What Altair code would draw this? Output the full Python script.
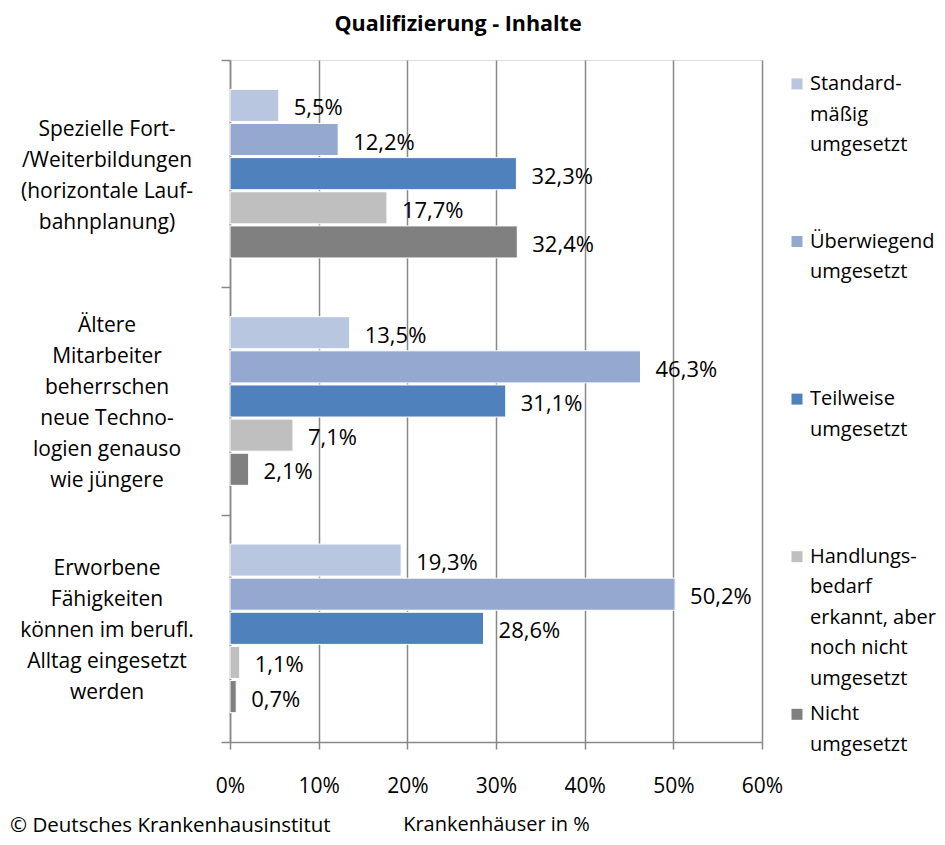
import altair as alt
import pandas as pd

categories = [
    "Spezielle Fort-|/Weiterbildungen|(horizontale Lauf-|bahnplanung)",
    "Ältere|Mitarbeiter|beherrschen|neue Techno-|logien genauso|wie jüngere",
    "Erworbene|Fähigkeiten|können im berufl.|Alltag eingesetzt|werden",
]
series = [
    "Standard-|mäßig|umgesetzt",
    "Überwiegend|umgesetzt",
    "Teilweise|umgesetzt",
    "Handlungs-|bedarf|erkannt, aber|noch nicht|umgesetzt",
    "Nicht|umgesetzt",
]
colors = ["#B9C6E0", "#95A9D0", "#4F81BD", "#BFBFBF", "#808080"]

standard = [5.5, 13.5, 19.3]
ueberwiegend = [12.2, 46.3, 50.2]
teilweise = [32.3, 31.1, 28.6]
handlungsbedarf = [17.7, 7.1, 1.1]
nicht = [32.4, 2.1, 0.7]

x_ticks = [0, 10, 20, 30, 40, 50, 60]

rows = []
for s, vals in zip(series, [standard, ueberwiegend, teilweise, handlungsbedarf, nicht]):
    for c, v in zip(categories, vals):
        rows.append({"cat": c, "series": s, "value": v,
                     "label": f"{v:.1f}%".replace(".", ",")})
df = pd.DataFrame(rows)

FONT = "Open Sans"
GRID = "#888888"
CAT_FS = 21
CAT_LH = 31

y_enc = alt.Y("cat:N", sort=categories,
              scale=alt.Scale(paddingInner=0, paddingOuter=0),
              axis=alt.Axis(title=None, orient="left", tickBand="extent",
                            ticks=True, tickSize=9, tickColor=GRID, tickWidth=1.5,
                            domainColor=GRID, domainWidth=1.5, grid=False,
                            labels=False))

base = alt.Chart(df).encode(
    y=y_enc,
    yOffset=alt.YOffset("series:N", sort=series,
                        scale=alt.Scale(paddingInner=0.06, paddingOuter=0.86)),
)

bars = base.mark_bar(stroke="white", strokeWidth=1).encode(
    x=alt.X("value:Q", scale=alt.Scale(domain=[0, 60], nice=False),
            axis=alt.Axis(values=x_ticks, labelExpr="datum.value + '%'",
                          labelFlush=False,
                          grid=True, gridColor=GRID, gridWidth=1.5,
                          domainColor=GRID, domainWidth=1.5,
                          tickColor=GRID, tickWidth=1.5, tickSize=7,
                          labelFontSize=21, labelFont=FONT, labelColor="#000",
                          labelPadding=26,
                          title="Krankenhäuser in %", titleFont=FONT,
                          titleFontSize=20, titleFontWeight="normal",
                          titleColor="#000", titlePadding=18)),
    color=alt.Color("series:N", sort=series,
                    scale=alt.Scale(domain=series, range=colors),
                    legend=alt.Legend(title=None, orient="none",
                                      legendX=557, legendY=4,
                                      symbolType="M-1,0.8H1V2.8H-1Z",
                                      symbolSize=121, symbolStrokeWidth=0,
                                      labelFont=FONT, labelFontSize=20,
                                      labelColor="#000", labelBaseline="top",
                                      labelOffset=3, labelLimit=220,
                                      rowPadding=5.6, padding=0,
                                      labelExpr="slice(split(datum.label + '||||', '|'), 0, 5)")),
)

text = base.mark_text(align="left", baseline="middle", dx=15, dy=3,
                      fontSize=22, font=FONT, color="#000").encode(
    x=alt.X("value:Q"),
    text=alt.Text("label:N"),
)

# category labels (multi-line, centred on their band)
cat_layers = []
for c in categories:
    n = len(c.split("|"))
    cat_layers.append(
        alt.Chart(pd.DataFrame({"cat": [c]})).mark_text(
            align="center", baseline="top", lineBreak="|",
            lineHeight=CAT_LH, fontSize=CAT_FS, font=FONT, color="#000",
            dy=-(n - 1) * CAT_LH / 2 - 0.52 * CAT_FS + 2.5,
        ).encode(y=y_enc, text="cat:N", x=alt.value(-123))
    )

notes = pd.DataFrame({"t": ["© Deutsches Krankenhausinstitut"]})
copyright = alt.Chart(notes).mark_text(
    align="left", baseline="middle", fontSize=20.5, font=FONT, color="#000"
).encode(text="t:N", x=alt.value(-220), y=alt.value(766))

titles = pd.DataFrame({"t": ["Qualifizierung  - Inhalte"]})
title = alt.Chart(titles).mark_text(
    align="center", baseline="middle", fontSize=21.5, font=FONT,
    fontWeight="bold", color="#000"
).encode(text="t:N", x=alt.value(228), y=alt.value(-35))

chart = alt.layer(bars, text, *cat_layers, copyright, title).properties(
    width=532, height=682,
    autosize=alt.AutoSizeParams(type="none"),
    padding={"left": 222, "top": 52, "right": 175, "bottom": 95},
).configure_view(stroke=None).configure(
    style={"guide-label": {"lineHeight": 30.5}}
)

chart.save("out.html", embed_options={"renderer": "svg", "actions": False})
